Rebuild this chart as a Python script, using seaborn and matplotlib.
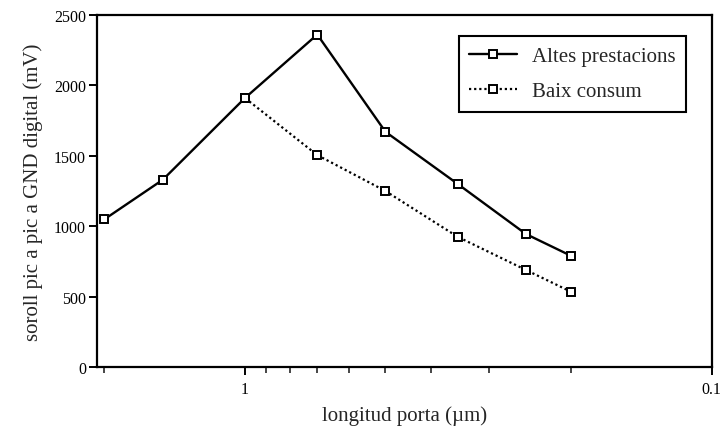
import matplotlib
matplotlib.use("Agg")
import matplotlib.pyplot as plt
import matplotlib.ticker as mticker
import seaborn as sns
import pandas as pd

# Data
x_altes = [2.0, 1.5, 1.0, 0.7, 0.5, 0.35, 0.25, 0.2]
y_altes = [1050, 1330, 1910, 2360, 1670, 1300, 945, 790]
x_baix = [1.0, 0.7, 0.5, 0.35, 0.25, 0.2]
y_baix = [1910, 1505, 1250, 925, 690, 535]
series_names = ["Altes prestacions", "Baix consum"]
y_ticks = [0, 500, 1000, 1500, 2000, 2500]
x_major = [1, 0.1]
x_major_labels = ["1", "0.1"]
x_minor = [2, 0.9, 0.8, 0.7, 0.6, 0.5, 0.4, 0.3, 0.2]

sns.set_style("ticks")
plt.rcParams["font.family"] = ["Liberation Serif", "DejaVu Serif"]

df_a = pd.DataFrame({"x": x_altes, "y": y_altes})
df_b = pd.DataFrame({"x": x_baix, "y": y_baix})

fig = plt.figure(figsize=(7.24, 4.27), dpi=100)
ax = fig.add_axes([0.134, 0.1375, 0.849, 0.8255])

mk = dict(marker="s", markersize=6, markerfacecolor="white",
          markeredgecolor="black", markeredgewidth=1.4, color="black")
sns.lineplot(data=df_a, x="x", y="y", ax=ax, linewidth=1.7, linestyle="-",
             label=series_names[0], **mk)
sns.lineplot(data=df_b, x="x", y="y", ax=ax, linewidth=1.6,
             linestyle=(0, (1, 1.3)), label=series_names[1], **mk)

ax.set_xscale("log")
ax.set_xlim(2.075, 0.1)
ax.set_ylim(0, 2500)
ax.xaxis.set_major_locator(mticker.FixedLocator(x_major))
ax.xaxis.set_major_formatter(mticker.FixedFormatter(x_major_labels))
ax.xaxis.set_minor_locator(mticker.FixedLocator(x_minor))
ax.xaxis.set_minor_formatter(mticker.NullFormatter())
ax.set_yticks(y_ticks)
ax.set_yticklabels([str(v) for v in y_ticks])

for s in ax.spines.values():
    s.set_linewidth(1.6)
    s.set_color("black")
ax.tick_params(axis="both", which="major", direction="out", length=6,
               width=1.4, labelsize=11.5, colors="black", pad=2)
ax.tick_params(axis="x", which="major", pad=4)
ax.tick_params(axis="x", which="minor", direction="out", length=4, width=1.2)

ax.set_xlabel("longitud porta (\u00b5m)", fontsize=15, labelpad=6)
ax.set_ylabel("soroll pic a pic a GND digital (mV)", fontsize=15, labelpad=8)

leg = ax.legend(loc="upper left", bbox_to_anchor=(0.589, 0.94),
                fontsize=15, frameon=True, fancybox=False, framealpha=1,
                edgecolor="black", handlelength=2.3, handletextpad=0.7,
                labelspacing=0.75, borderpad=0.5, borderaxespad=0,
                numpoints=1, markerscale=0.85)
leg.get_frame().set_linewidth(1.5)

fig.savefig("out.png", dpi=100)
